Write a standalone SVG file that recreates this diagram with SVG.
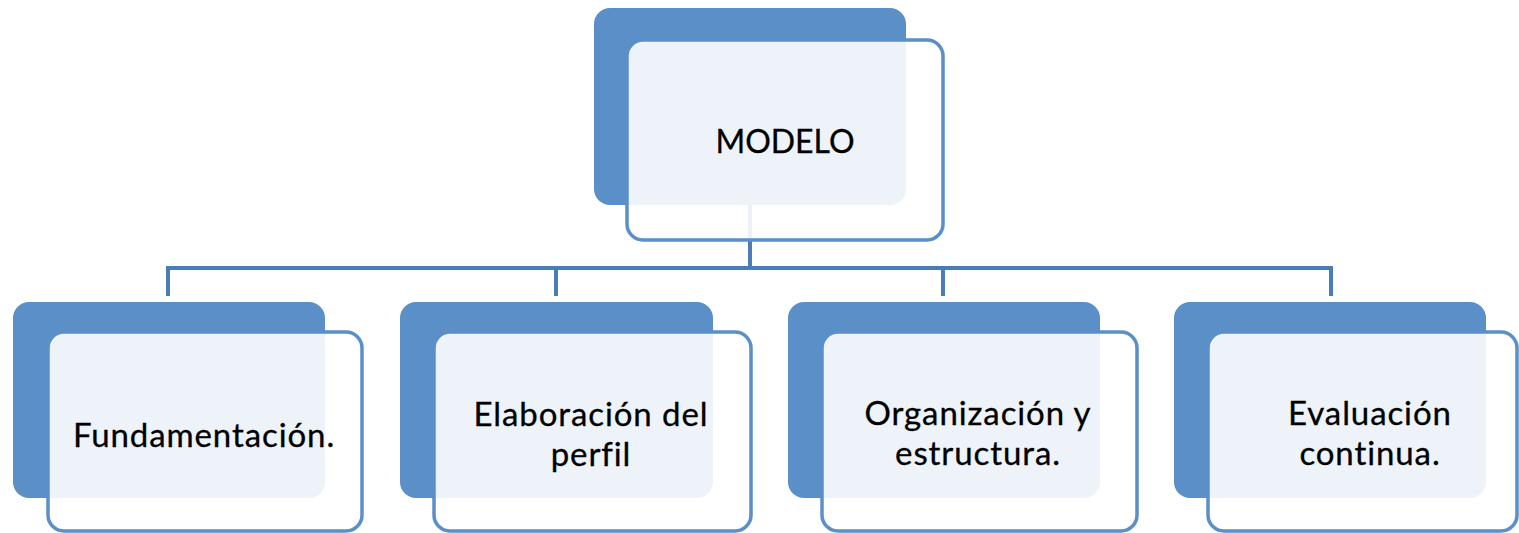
<svg xmlns="http://www.w3.org/2000/svg" width="1519" height="533" viewBox="0 0 1519 533">
<style>
.back{fill:#5b8fc8;}
.front{fill:#ffffff;fill-opacity:0.89;stroke:#5b8fc8;stroke-width:3.5;}
.conn{fill:none;stroke:#4a7db8;stroke-width:4;}
.lbl{font-family:Lato,"Open Sans",sans-serif;font-size:33px;letter-spacing:0.9px;fill:#000000;stroke:#000000;stroke-width:0.3px;text-anchor:middle;}
.top{font-size:32px;letter-spacing:0;}
</style>
<rect width="1519" height="533" fill="#ffffff"/>
<g id="connectors">
<path class="conn" d="M750 205 V268"/>
<path class="conn" d="M168 296 V268 H1331 V296"/>
<path class="conn" d="M556 268 V296"/>
<path class="conn" d="M943 268 V296"/>
</g>
<g id="node-modelo">
<rect class="back" x="594" y="8" width="312" height="197" rx="16"/>
<rect class="front" x="627" y="40" width="316" height="200" rx="16"/>
<text class="lbl top" x="785" y="153">MODELO</text>
</g>
<g id="node-fundamentacion">
<rect class="back" x="13" y="302" width="312" height="196" rx="16"/>
<rect class="front" x="48" y="332" width="314" height="199" rx="16"/>
<text class="lbl" x="204" y="447">Fundamentación.</text>
</g>
<g id="node-perfil">
<rect class="back" x="400" y="302" width="313" height="196" rx="16"/>
<rect class="front" x="434" y="332" width="317" height="199" rx="16"/>
<text class="lbl"><tspan x="591" y="426">Elaboración del</tspan><tspan x="591" y="466">perfil</tspan></text>
</g>
<g id="node-organizacion">
<rect class="back" x="788" y="302" width="312" height="196" rx="16"/>
<rect class="front" x="822" y="332" width="315" height="199" rx="16"/>
<text class="lbl"><tspan x="978" y="425">Organización y</tspan><tspan x="978" y="465">estructura.</tspan></text>
</g>
<g id="node-evaluacion">
<rect class="back" x="1174" y="302" width="312" height="196" rx="16"/>
<rect class="front" x="1208" y="332" width="309" height="199" rx="16"/>
<text class="lbl"><tspan x="1370" y="425">Evaluación</tspan><tspan x="1370" y="465">continua.</tspan></text>
</g>
</svg>
